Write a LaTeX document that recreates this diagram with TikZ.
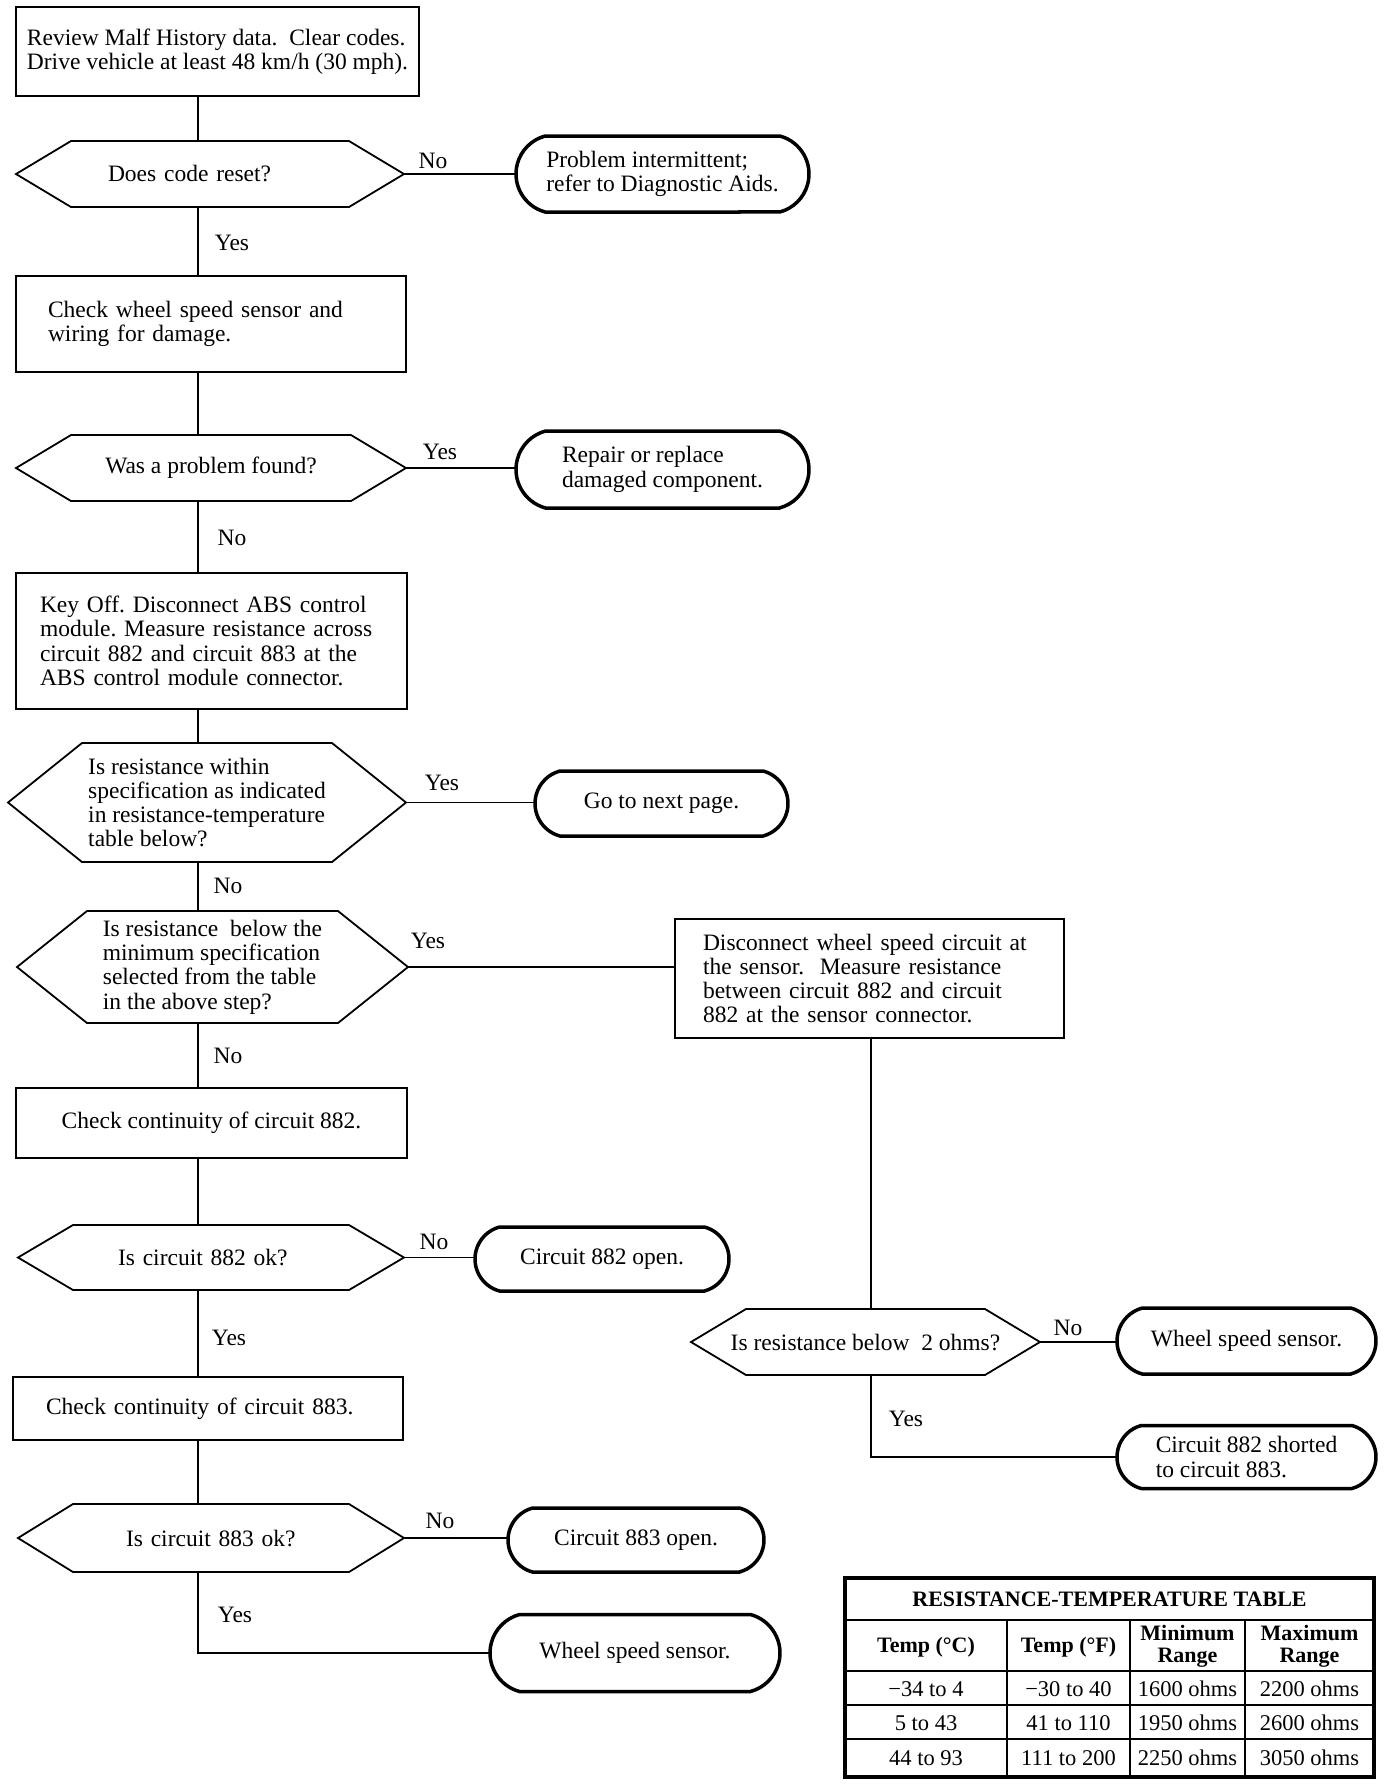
\documentclass[tikz,border=0pt]{standalone}
\usepackage{fontspec}
\setmainfont{Liberation Serif}
\usetikzlibrary{shapes.misc}
\newcommand{\hexshape}[2]{\draw[hexline] (#1.west) -- ([xshift=#2pt]#1.north west) -- ([xshift=-#2pt]#1.north east) -- (#1.east) -- ([xshift=-#2pt]#1.south east) -- ([xshift=#2pt]#1.south west) -- cycle;}
\begin{document}
\frenchspacing
\begin{tikzpicture}[x=1pt,y=-1pt,
  txt/.style={font=\fontsize{23.5}{24.3}\selectfont},
  box/.style={draw, line width=1.8pt, inner sep=0pt, outer sep=0pt, align=left, txt},
  hexn/.style={draw=none, inner sep=0pt, outer sep=0pt, align=left, txt},
  hexline/.style={line width=1.8pt, line join=miter},
  term/.style={draw, rounded rectangle, rounded rectangle arc length=150, line width=3.5pt, inner sep=0pt, outer sep=0pt, align=left, txt},
  lbl/.style={txt, inner sep=0pt},
  conn/.style={line width=1.8pt},
  tb/.style={font=\fontsize{22}{22}\selectfont\bfseries, align=center, inner sep=0pt},
  tc/.style={font=\fontsize{22.5}{22.5}\selectfont, inner sep=0pt}]
\useasboundingbox (0,0) rectangle (1392,1786);
\coordinate (tx) at (198,0);
\coordinate (rx) at (871,0);

% left column
\node[box, minimum width=403pt, minimum height=89pt] (b1) at (217.5,51.5)
  {Review Malf History data.\ \ Clear codes.\\Drive vehicle at least 48 km/h (30 mph).};
\node[hexn, minimum width=388pt, minimum height=66pt, inner xsep=92pt, text width=204pt] (d1) at (210,174) {Does code reset?};
\node[term, minimum width=293pt, minimum height=76pt] (t1) at (662.5,174) {Problem intermittent;\\refer to Diagnostic Aids.};
\node[box, minimum width=390pt, minimum height=96pt, inner xsep=32pt, text width=326pt] (b2) at (211,324)
  {Check wheel speed sensor and\\wiring for damage.};
\node[hexn, minimum width=390pt, minimum height=66pt] (d2) at (211,468) {Was a problem found?};
\node[term, minimum width=293pt, minimum height=77pt] (t2) at (662.5,469.5) {Repair or replace\\damaged component.};
\node[box, minimum width=391pt, minimum height=136pt, inner xsep=24pt, text width=343pt] (b3) at (211.5,641)
  {Key Off. Disconnect ABS control\\module. Measure resistance across\\circuit 882 and circuit 883 at the\\ABS control module connector.};
\node[hexn, minimum width=398pt, minimum height=119pt] (d3) at (207,802.5)
  {Is resistance within\\specification as indicated\\in resistance-temperature\\table below?};
\node[term, minimum width=253pt, minimum height=65pt] (t3) at (661.5,803.5) {Go to next page.};
\node[hexn, minimum width=391pt, minimum height=112pt] (d4) at (212.5,967)
  {Is resistance\ \ below the\\minimum specification\\selected from the table\\in the above step?};
\node[box, minimum width=389pt, minimum height=119pt, inner xsep=28pt, text width=333pt] (b4) at (869.5,978.5)
  {Disconnect wheel speed circuit at\\the sensor.\ \ Measure resistance\\between circuit 882 and circuit\\882 at the sensor connector.};
\node[box, minimum width=391pt, minimum height=70pt, align=center] (b5) at (211.5,1123) {Check continuity of circuit 882.};
\node[hexn, minimum width=386pt, minimum height=65pt, inner xsep=100pt, text width=186pt] (d5) at (211,1257.5) {Is circuit 882 ok?};
\node[term, minimum width=254pt, minimum height=64pt] (t5) at (602,1259) {Circuit 882 open.};
\node[box, minimum width=390pt, minimum height=63pt, inner xsep=33pt, text width=324pt] (b6) at (208,1408.5) {Check continuity of circuit 883.};
\node[hexn, minimum width=386pt, minimum height=68pt, inner xsep=108pt, text width=170pt] (d6) at (211,1538) {Is circuit 883 ok?};
\node[term, minimum width=256pt, minimum height=64pt] (t6) at (636,1540) {Circuit 883 open.};
\node[term, minimum width=290pt, minimum height=77pt] (t7) at (635,1653) {Wheel speed sensor.};

% right column
\node[hexn, minimum width=349pt, minimum height=66pt] (d7) at (865.5,1342) {Is resistance below\ \ 2 ohms?};
\node[term, minimum width=259pt, minimum height=66pt] (t8) at (1246.5,1341) {Wheel speed sensor.};
\node[term, minimum width=259pt, minimum height=63pt] (t9) at (1246.5,1457) {Circuit 882 shorted\\to circuit 883.};

\hexshape{d1}{55}
\hexshape{d2}{55}
\hexshape{d3}{74}
\hexshape{d4}{70}
\hexshape{d5}{55}
\hexshape{d6}{55}
\hexshape{d7}{55}

% connectors
\draw[conn] (b1.south -| tx) -- (d1.north -| tx);
\draw[conn] (d1.east) -- (d1.east -| t1.west);
\draw[conn] (d1.south -| tx) -- (b2.north -| tx);
\draw[conn] (b2.south -| tx) -- (d2.north -| tx);
\draw[conn] (d2.east) -- (d2.east -| t2.west);
\draw[conn] (d2.south -| tx) -- (b3.north -| tx);
\draw[conn] (b3.south -| tx) -- (d3.north -| tx);
\draw[conn] (d3.east) -- (d3.east -| t3.west);
\draw[conn] (d3.south -| tx) -- (d4.north -| tx);
\draw[conn] (d4.east) -- (d4.east -| b4.west);
\draw[conn] (d4.south -| tx) -- (b5.north -| tx);
\draw[conn] (b5.south -| tx) -- (d5.north -| tx);
\draw[conn] (d5.east) -- (d5.east -| t5.west);
\draw[conn] (d5.south -| tx) -- (b6.north -| tx);
\draw[conn] (b6.south -| tx) -- (d6.north -| tx);
\draw[conn] (d6.east) -- (d6.east -| t6.west);
\draw[conn] (d6.south -| tx) -- (tx |- t7.west) -- (t7.west);
\draw[conn] (b4.south -| rx) -- (d7.north -| rx);
\draw[conn] (d7.east) -- (d7.east -| t8.west);
\draw[conn] (d7.south -| rx) -- (rx |- t9.west) -- (t9.west);

% labels
\node[lbl] (l1) at (433,161) {No};
\node[lbl] (l2) at (232,243) {Yes};
\node[lbl] (l3) at (440,452) {Yes};
\node[lbl] (l4) at (232,538) {No};
\node[lbl] (l5) at (442,783) {Yes};
\node[lbl] (l6) at (228,886) {No};
\node[lbl] (l7) at (428,941) {Yes};
\node[lbl] (l8) at (228,1056) {No};
\node[lbl] (l9) at (434,1242) {No};
\node[lbl] (l10) at (229,1338) {Yes};
\node[lbl] (l11) at (440,1521) {No};
\node[lbl] (l12) at (235,1615) {Yes};
\node[lbl] (l13) at (1068,1328) {No};
\node[lbl] (l14) at (906,1419) {Yes};

% table
\draw[line width=2.6pt] (845,1620) -- (1374,1620);
\draw[line width=2.6pt] (845,1671) -- (1374,1671);
\draw[line width=2.6pt] (845,1705) -- (1374,1705);
\draw[line width=2.6pt] (845,1739) -- (1374,1739);
\draw[line width=2.6pt] (1007,1620) -- (1007,1777);
\draw[line width=2.6pt] (1130,1620) -- (1130,1777);
\draw[line width=2.6pt] (1245,1620) -- (1245,1777);
\draw[line width=3.2pt] (845,1578) rectangle (1374,1777);
\node[tb] (th) at (1109.5,1599) {RESISTANCE-TEMPERATURE TABLE};
\node[tb] (h1) at (926,1647) {Temp (°C)};
\node[tb] (h2) at (1068.5,1647) {Temp (°F)};
\node[tb] (h3) at (1187.5,1646) {Minimum\\Range};
\node[tb] (h4) at (1309.5,1646) {Maximum\\Range};
\node[tc] (r11) at (926,1689) {−34 to 4};
\node[tc] (r12) at (1068.5,1689) {−30 to 40};
\node[tc] (r13) at (1187.5,1689) {1600 ohms};
\node[tc] (r14) at (1309.5,1689) {2200 ohms};
\node[tc] (r21) at (926,1723) {5 to 43};
\node[tc] (r22) at (1068.5,1723) {41 to 110};
\node[tc] (r23) at (1187.5,1723) {1950 ohms};
\node[tc] (r24) at (1309.5,1723) {2600 ohms};
\node[tc] (r31) at (926,1758) {44 to 93};
\node[tc] (r32) at (1068.5,1758) {111 to 200};
\node[tc] (r33) at (1187.5,1758) {2250 ohms};
\node[tc] (r34) at (1309.5,1758) {3050 ohms};
\end{tikzpicture}
\end{document}
